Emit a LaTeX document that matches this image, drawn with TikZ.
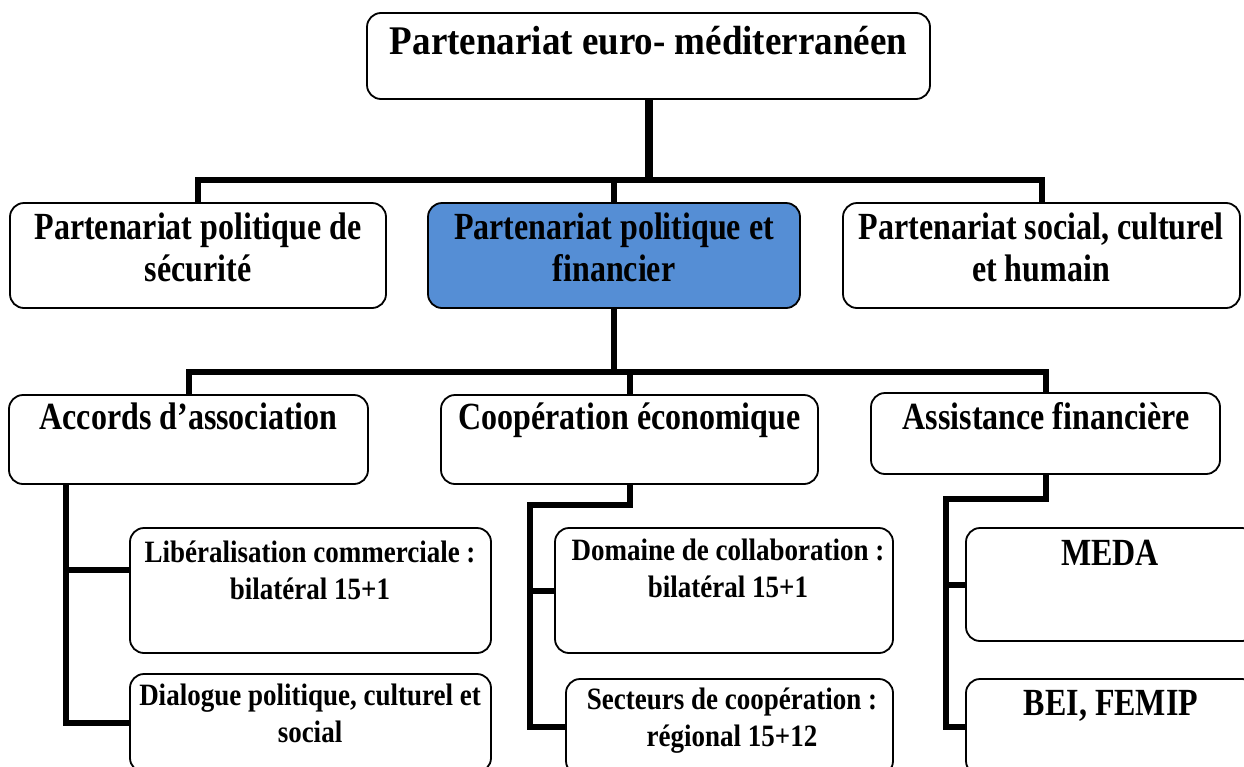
\documentclass[tikz,border=0pt]{standalone}
\usepackage{fontspec}
\setmainfont{Liberation Serif}
\usepackage{graphicx}
\newcommand{\stk}[2][1.15]{\scalebox{1}[#1]{\begin{tabular}{@{}c@{}}#2\end{tabular}}}
\definecolor{boxblue}{RGB}{85,142,213}
\begin{document}
\begin{tikzpicture}[x=1pt,y=-1pt,
  box/.style={draw=black,line width=1.8pt,rounded corners=14pt,inner sep=0pt,fill=white},
  conn/.style={line width=6pt,line join=miter},
  trunk/.style={line width=8pt},
  tA/.style={inner sep=0pt,font=\fontsize{37}{42}\selectfont\bfseries},
  tB/.style={inner sep=0pt,font=\fontsize{32}{35.5}\selectfont\bfseries},
  tC/.style={inner sep=0pt,font=\fontsize{27}{32.2}\selectfont\bfseries}]
\useasboundingbox (0,0) rectangle (1244,766);
\clip (0,0) rectangle (1244,766);
% boxes (centre, size)
\node[box,minimum width=563pt,minimum height=86pt] (top) at (648.5,56) {};
\node[box,minimum width=376pt,minimum height=105pt] (b1) at (198,255.5) {};
\node[box,minimum width=372pt,minimum height=105pt,fill=boxblue] (b2) at (614,255.5) {};
\node[box,minimum width=397pt,minimum height=105pt] (b3) at (1041.5,255.5) {};
\node[box,minimum width=359pt,minimum height=89pt] (a1) at (188.5,439.5) {};
\node[box,minimum width=377pt,minimum height=89pt] (a2) at (629.5,439.5) {};
\node[box,minimum width=349pt,minimum height=81pt] (a3) at (1045.5,433.5) {};
\node[box,minimum width=361pt,minimum height=125pt] (c1) at (310.5,590.5) {};
\node[box,minimum width=361pt,minimum height=98pt] (c2) at (310.5,723) {};
\node[box,minimum width=338pt,minimum height=125pt] (d1) at (724,590.5) {};
\node[box,minimum width=327pt,minimum height=96pt] (d2) at (729.5,727) {};
\node[box,minimum width=290pt,minimum height=113pt] (e1) at (1111,584.5) {};
\node[box,minimum width=290pt,minimum height=96pt] (e2) at (1111,727) {};
% texts
\node[tA] (ttop) at (648.5,45) {\stk[1.1]{Partenariat euro- méditerranéen}};
\node[tB] (tb1) at (198,252) {\stk[1.2]{Partenariat politique de\\sécurité}};
\node[tB] (tb2) at (614,252) {\stk[1.2]{Partenariat politique et\\financier}};
\node[tB] (tb3) at (1041,252) {\stk[1.2]{Partenariat social, culturel\\et humain}};
\node[tB] (ta1) at (188.5,421) {\stk[1.2]{Accords d’association}};
\node[tB] (ta2) at (629.5,421) {\stk[1.2]{Coopération économique}};
\node[tB] (ta3) at (1046,421) {\stk[1.2]{Assistance financière}};
\node[tC] (tc1) at (310,574) {\stk{Libéralisation commerciale :\\bilatéral 15+1}};
\node[tC] (tc2) at (310,717) {\stk{Dialogue politique, culturel et\\social}};
\node[tC] (td1) at (728,572) {\stk{Domaine de collaboration :\\bilatéral 15+1}};
\node[tC] (td2) at (732,721) {\stk{Secteurs de coopération :\\régional 15+12}};
\node[tB] (te1) at (1110,557) {\stk[1.2]{MEDA}};
\node[tB] (te2) at (1111,707) {\stk[1.2]{BEI, FEMIP}};
% connectors
\coordinate (bar1) at (648.5,180);
\coordinate (bar2) at (614,372);
\coordinate (lx) at (66,500);
\coordinate (mx) at (530,505);
\coordinate (rx) at (946,499);
\draw[trunk] (top.south) -- (top.south |- bar1);
\draw[conn] (b1.north) |- (bar1) -| (b3.north);
\draw[conn] (b2.north) -- (b2.north |- bar1);
\draw[conn] (b2.south) -- (b2.south |- bar2);
\draw[conn] (a1.north) |- (bar2) -| (a3.north);
\draw[conn] (a2.north) -- (a2.north |- bar2);
\draw[conn] (a1.south -| lx) |- (c2.west);
\draw[conn] ([yshift=21pt]c1.west) -- ([yshift=21pt]c1.west -| lx);
\draw[conn] (a2.south) |- (mx) |- (d2.west);
\draw[conn] (d1.west) -- (d1.west -| mx);
\draw[conn] (a3.south) |- (rx) |- (e2.west);
\draw[conn] (e1.west) -- (e1.west -| rx);
\end{tikzpicture}
\end{document}
